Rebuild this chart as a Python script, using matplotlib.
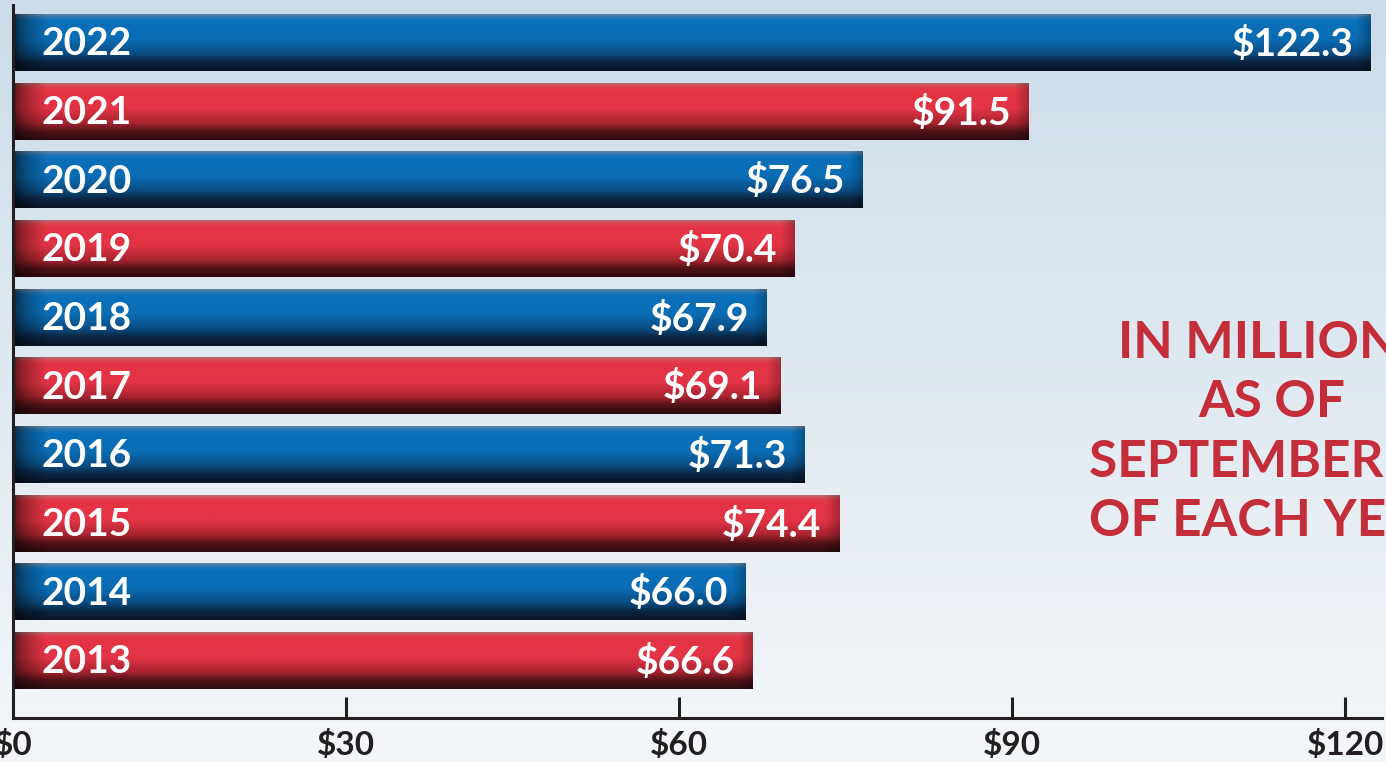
import numpy as np
import matplotlib
matplotlib.use("Agg")
import matplotlib.pyplot as plt
from matplotlib.colors import to_rgb

years = ['2013', '2014', '2015', '2016', '2017', '2018', '2019', '2020', '2021', '2022']
values = [66.6, 66.0, 74.4, 71.3, 69.1, 67.9, 70.4, 76.5, 91.5, 122.3]
bar_kind = ['red', 'blue', 'red', 'blue', 'red', 'blue', 'red', 'blue', 'red', 'blue']
x_ticks = [0, 30, 60, 90, 120]
x_tick_labels = ['$0', '$30', '$60', '$90', '$120']
note = 'IN MILLIONS\nAS OF\nSEPTEMBER 30\nOF EACH YEAR'

font = 'Lato'
text_dark = '#231f20'
note_red = '#c42e3a'

# vertical colour stops (top -> bottom) for the shaded bars
stops = {
    'blue': [(0.00, '#5f84a6'), (0.05, '#2a78b4'), (0.12, '#0a70ba'),
             (0.45, '#0b6cb3'), (0.70, '#0a4c82'), (0.85, '#0b2440'), (1.00, '#0b1526')],
    'red':  [(0.00, '#b86a72'), (0.05, '#dd4452'), (0.12, '#e53445'),
             (0.45, '#e23444'), (0.70, '#a82430'), (0.85, '#521218'), (1.00, '#2c0b0f')],
}


def bar_image(kind, length, ny=80, nx=400):
    t = np.linspace(0, 1, ny)
    pts = [s[0] for s in stops[kind]]
    cols = np.array([to_rgb(s[1]) for s in stops[kind]])
    col = np.stack([np.interp(t, pts, cols[:, c]) for c in range(3)], axis=-1)
    x = np.linspace(0, length, nx)
    # darker left end, slight rounding at the right end
    left = 0.35 + 0.65 * np.clip(x / 3.0, 0, 1) ** 0.6
    right = 0.75 + 0.25 * np.clip((length - x) / 1.2, 0, 1)
    shade = (left * right)[None, :, None]
    img = col[:, None, :] * shade
    return np.clip(img, 0, 1)


fig = plt.figure(figsize=(13.86, 7.62), dpi=100)

# background gradient
bg = fig.add_axes([0, 0, 1, 1])
g = np.linspace(0, 1, 256)[:, None]
top_c = np.array(to_rgb('#ccdce8'))
bot_c = np.array(to_rgb('#f4f7fa'))
bg_img = (top_c * (1 - g) + bot_c * g)[:, None, :].repeat(2, axis=1)
bg.imshow(bg_img, aspect='auto', extent=(0, 1, 0, 1), origin='upper')
bg.set_axis_off()

ax = fig.add_axes([13 / 1386, 44 / 762, 1369 / 1386, 713 / 762])
ax.patch.set_alpha(0)
bar_h = 0.83
for i, (yr, v, k) in enumerate(zip(years, values, bar_kind)):
    ax.imshow(bar_image(k, v), aspect='auto', interpolation='bilinear',
              extent=(0, v, i - bar_h / 2, i + bar_h / 2), origin='upper', zorder=2)
    ax.text(2.6, i - 0.02, yr, color='white', fontsize=28, fontweight='bold',
            family=font, ha='left', va='center', zorder=3)
    ax.text(v - 1.6, i - 0.02, f'${v:.1f}', color='white', fontsize=28,
            fontweight='bold', family=font, ha='right', va='center', zorder=3)

ax.text(113.4, 3.32, note, color=note_red, fontsize=37, fontweight='bold',
        family=font, ha='center', va='center', linespacing=1.32, zorder=3)

ax.set_xlim(0, 123.3)
ax.set_ylim(-0.837, 9.546)
ax.set_yticks([])
ax.set_xticks(x_ticks)
ax.set_xticklabels(x_tick_labels, fontsize=24, fontweight='bold', family=font,
                   color=text_dark)
ax.tick_params(axis='x', direction='in', length=15, width=2.2, color=text_dark, pad=9)
for s in ['top', 'right']:
    ax.spines[s].set_visible(False)
for s in ['left', 'bottom']:
    ax.spines[s].set_linewidth(2.2)
    ax.spines[s].set_color(text_dark)

fig.savefig('out.png', dpi=100)
